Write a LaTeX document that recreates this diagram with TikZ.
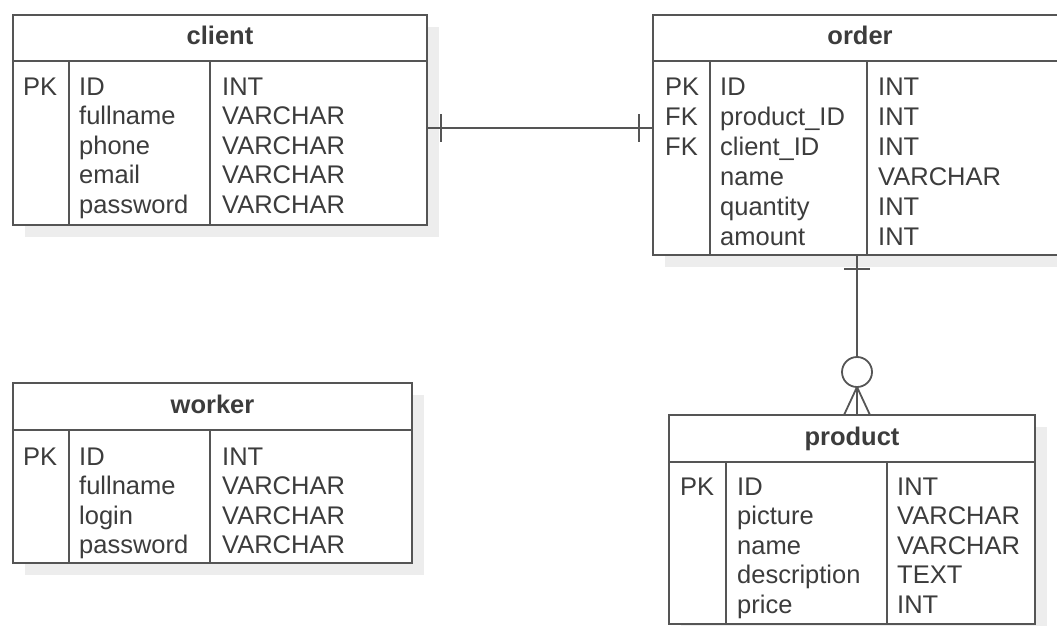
\documentclass[tikz,border=0pt]{standalone}
\usepackage{fontspec}
\setmainfont{Liberation Sans}
\usetikzlibrary{shadows}
\definecolor{linec}{HTML}{555555}
\definecolor{textc}{HTML}{3C3C3C}
\definecolor{shadec}{HTML}{EDEDED}
\tikzset{
  entity/.style={draw=linec, line width=1.8pt, fill=white, anchor=north west,
    inner sep=0pt, outer sep=0pt,
    general shadow={fill=shadec, shadow xshift=12pt, shadow yshift=-12pt}},
  ln/.style={draw=linec, line width=1.8pt},
  rel/.style={draw=linec, line width=1.8pt},
  txt/.style={anchor=base west, inner sep=0pt, text=textc,
    font=\fontsize{25.5}{30}\selectfont},
  ttl/.style={anchor=base, inner sep=0pt, text=textc,
    font=\fontsize{25.5}{30}\selectfont\bfseries},
}
\begin{document}
\begin{tikzpicture}[x=1pt,y=-1pt]
\useasboundingbox (0,0) rectangle (1057,626);

% ---------- client ----------
\node[entity, minimum width=414pt, minimum height=210pt] (client) at (13,15) {};
\draw[ln] (13,61) -- (427,61);
\draw[ln] (69,61) -- (69,225);
\draw[ln] (210,61) -- (210,225);
\node[ttl] (clientT) at (220,45) {client};
\foreach \k/\n/\t [count=\i from 0] in
  {PK/ID/INT, /fullname/VARCHAR, /phone/VARCHAR, /email/VARCHAR, /password/VARCHAR}{
  \node[txt] (clientK\i) at (23,{95+\i*29.6}) {\k};
  \node[txt] (clientN\i) at (79,{95+\i*29.6}) {\n};
  \node[txt] (clientY\i) at (222,{95+\i*29.6}) {\t};
}

% ---------- worker ----------
\node[entity, minimum width=399pt, minimum height=180pt] (worker) at (13,383) {};
\draw[ln] (13,430) -- (412,430);
\draw[ln] (69,430) -- (69,563);
\draw[ln] (210,430) -- (210,563);
\node[ttl] (workerT) at (212.5,413) {worker};
\foreach \k/\n/\t [count=\i from 0] in
  {PK/ID/INT, /fullname/VARCHAR, /login/VARCHAR, /password/VARCHAR}{
  \node[txt] (workerK\i) at (23,{465+\i*29.6}) {\k};
  \node[txt] (workerN\i) at (79,{465+\i*29.6}) {\n};
  \node[txt] (workerY\i) at (222,{465+\i*29.6}) {\t};
}

% ---------- order ----------
\node[entity, minimum width=414pt, minimum height=240pt] (order) at (653,15) {};
\draw[ln] (653,61) -- (1067,61);
\draw[ln] (710,61) -- (710,255);
\draw[ln] (867,61) -- (867,255);
\node[ttl] (orderT) at (860,45) {order};
\foreach \k/\n/\t [count=\i from 0] in
  {PK/ID/INT, FK/product\_ID/INT, FK/client\_ID/INT, /name/VARCHAR,
   /quantity/INT, /amount/INT}{
  \node[txt] (orderK\i) at (665,{95+\i*30}) {\k};
  \node[txt] (orderN\i) at (720,{95+\i*30}) {\n};
  \node[txt] (orderY\i) at (878,{95+\i*30}) {\t};
}

% ---------- product ----------
\node[entity, minimum width=366pt, minimum height=209pt] (product) at (669,415) {};
\draw[ln] (669,462) -- (1035,462);
\draw[ln] (726,462) -- (726,624);
\draw[ln] (887,462) -- (887,624);
\node[ttl] (productT) at (852,445) {product};
\foreach \k/\n/\t [count=\i from 0] in
  {PK/ID/INT, /picture/VARCHAR, /name/VARCHAR, /description/TEXT, /price/INT}{
  \node[txt] (productK\i) at (680,{495+\i*29.6}) {\k};
  \node[txt] (productN\i) at (737,{495+\i*29.6}) {\n};
  \node[txt] (productY\i) at (897,{495+\i*29.6}) {\t};
}

% ---------- client -- order : one to one ----------
\coordinate (co) at (0,128);
\draw[rel] (client.east |- co) -- (order.west |- co);
\draw[rel] ([xshift=14pt]client.east |- co) ++(0,-14) -- ++(0,28);
\draw[rel] ([xshift=-14pt]order.west |- co) ++(0,-14) -- ++(0,28);

% ---------- order -- product : one to zero-or-many ----------
\coordinate (op) at (857,0);
\coordinate (ring) at (857,372);
\draw[rel] (order.south -| op) -- ([yshift=15pt]ring);
\draw[rel] ([yshift=-14pt]order.south -| op) ++(-13,0) -- ++(26,0);
\draw[rel] (ring) circle[radius=15pt];
\draw[rel] ([yshift=-15pt]ring) -- (product.north -| op);
\draw[rel] ([yshift=-15pt]ring) -- ([xshift=-13pt]product.north -| op);
\draw[rel] ([yshift=-15pt]ring) -- ([xshift=13pt]product.north -| op);
\end{tikzpicture}
\end{document}
